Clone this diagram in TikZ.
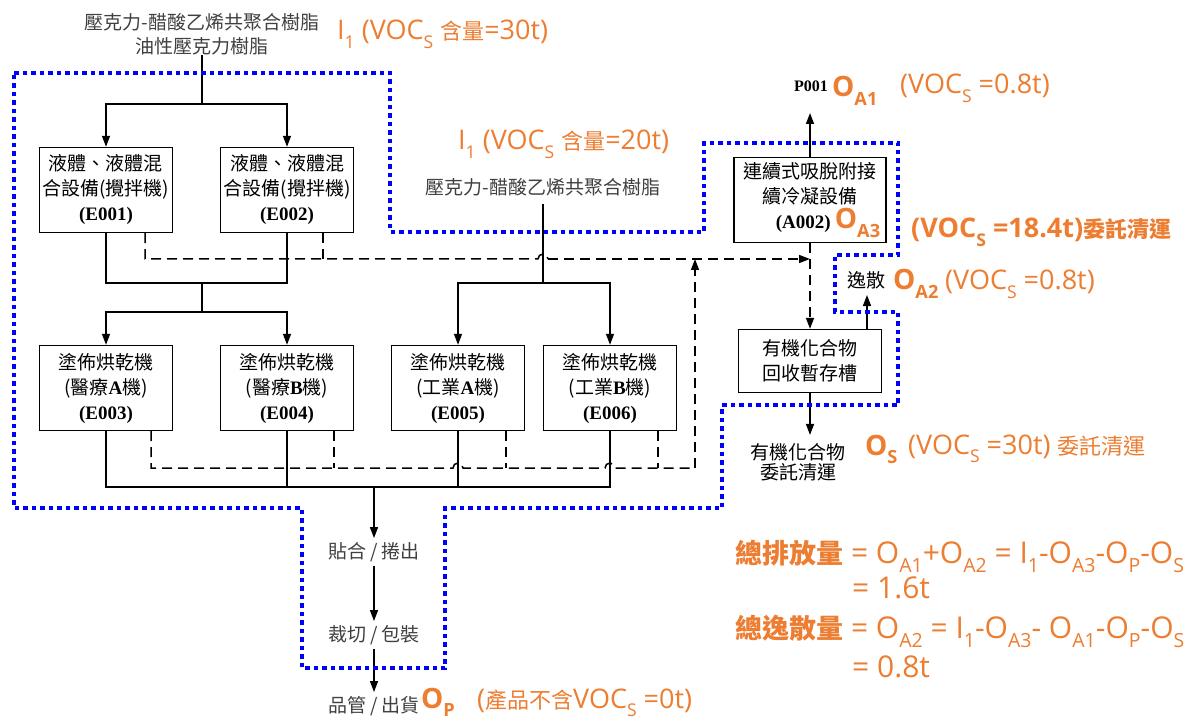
\documentclass[tikz,border=0pt]{standalone}
\usepackage{fontspec}
\usepackage{graphicx}
\usetikzlibrary{arrows.meta}
\setmainfont{Liberation Serif}
\newfontfamily\cjk{Noto Sans CJK TC}
\newfontfamily\osans{Open Sans}
\definecolor{orng}{RGB}{237,125,49}
\definecolor{gtx}{RGB}{64,64,64}
\definecolor{dblue}{RGB}{0,0,255}
\newcommand\sbx[1]{\raisebox{-0.3em}{\scalebox{0.65}{#1}}}
\newcommand\cj[1]{{\cjk\fontsize{22}{22}\selectfont #1}}
\newcommand\bO[1]{{\color{orng}\osans\bfseries\fontsize{28}{28}\selectfont O\sbx{#1}}}
\newcommand\ecode[1]{{\rmfamily\bfseries #1}}
\begin{document}
\begin{tikzpicture}[x=1pt,y=-1pt,
 ln/.style={line width=1.4pt},
 arr/.style={line width=1.4pt,-{Triangle[length=11pt,width=8pt]}},
 dsh/.style={line width=1.5pt,dash pattern=on 10pt off 6pt},
 darr/.style={dsh,-{Triangle[length=11pt,width=8pt]}},
 blu/.style={dblue,line width=4.5pt,dash pattern=on 4.5pt off 4pt},
 box/.style={draw,line width=1.4pt,minimum width=133pt,minimum height=85pt,align=center,inner sep=2pt,font=\cjk\fontsize{19}{25}\selectfont},
 btx/.style={font=\cjk\fontsize{19}{21}\selectfont,align=center,inner sep=0pt},
 gtxt/.style={gtx,font=\cjk\fontsize{19}{24}\selectfont,align=center,inner sep=0pt},
 ptxt/.style={gtx,font=\cjk\fontsize{19}{24}\selectfont,inner sep=4pt},
 otxt/.style={orng,font=\osans\fontsize{27}{27}\selectfont,inner sep=0pt,anchor=base west},
 ftxt/.style={orng,font=\osans\fontsize{30}{30}\selectfont,inner sep=0pt,anchor=base west},
]
\fill[white] (0,0) rectangle (1200,722);
\useasboundingbox (0,0) rectangle (1200,722);

% ---------- inputs ----------
\node[gtxt] (in1) at (202,34) {壓克力-醋酸乙烯共聚合樹脂\\油性壓克力樹脂};
\node[otxt] (i1a) at (337,40) {I\sbx{1} (VOC\sbx{S} \cj{含量}=30t)};
\node[otxt] (i1b) at (458,150) {I\sbx{1} (VOC\sbx{S} \cj{含量}=20t)};
\node[gtxt] (in2) at (543,187) {壓克力-醋酸乙烯共聚合樹脂};

% ---------- equipment ----------
\node[box] (e1) at (106,190) {液體、液體混\\合設備(攪拌機)\\\ecode{(E001)}};
\node[box] (e2) at (287,190) {液體、液體混\\合設備(攪拌機)\\\ecode{(E002)}};
\node[box] (e3) at (106,388) {塗佈烘乾機\\(醫療\ecode{A}機)\\\ecode{(E003)}};
\node[box] (e4) at (287,388) {塗佈烘乾機\\(醫療\ecode{B}機)\\\ecode{(E004)}};
\node[box] (e5) at (458,388) {塗佈烘乾機\\(工業\ecode{A}機)\\\ecode{(E005)}};
\node[box] (e6) at (610,388) {塗佈烘乾機\\(工業\ecode{B}機)\\\ecode{(E006)}};
\node[box,minimum width=152pt] (a2) at (810,200) {連續式吸脫附接\\續冷凝設備\\\hspace*{36pt}\ecode{(A002)} \bO{A3}};
\node[box,minimum width=143pt,minimum height=63pt] (tank) at (810,361) {有機化合物\\回收暫存槽};

% ---------- process steps ----------
\node[ptxt] (p1) at (374,552) {貼合 / 捲出};
\node[ptxt] (p2) at (374,635) {裁切 / 包裝};
\node[ptxt] (p3) at (374,706) {品管 / 出貨};

% ---------- outputs ----------
\node[font=\rmfamily\bfseries\fontsize{16}{16}\selectfont,anchor=base east,inner sep=0pt] (p001) at (828,92) {P001};
\node[anchor=base west,inner sep=0pt] (oa1) at (832,97) {\bO{A1}};
\node[otxt] (v1) at (900,94) {(VOC\sbx{S} =0.8t)};
\node[otxt,font=\osans\bfseries\fontsize{27}{27}\selectfont] (v3) at (911,238) {(VOC\sbx{S} =18.4t)\cj{\bfseries 委託清運}};
\node[btx] (ys) at (866,280) {逸散};
\node[anchor=base west,inner sep=0pt] (oa2) at (893,290) {\bO{A2}};
\node[otxt] (v2) at (945,290) {(VOC\sbx{S} =0.8t)};
\node[btx,font=\cjk\fontsize{19}{20}\selectfont] (os1) at (798,462) {有機化合物\\委託清運};
\node[anchor=base west,inner sep=0pt] (osl) at (865,455) {\bO{S}};
\node[otxt] (v4) at (908,454) {(VOC\sbx{S} =30t) \cj{委託清運}};
\node[anchor=base west,inner sep=0pt] (opl) at (421,708) {\bO{P}};
\node[otxt] (v5) at (477,708) {(\cj{產品不含}VOC\sbx{S} =0t)};

% ---------- formulas ----------
\node[ftxt] (f1) at (735,563) {{\cjk\bfseries\fontsize{27}{27}\selectfont 總排放量} = O\sbx{A1}+O\sbx{A2} = I\sbx{1}-O\sbx{A3}-O\sbx{P}-O\sbx{S}};
\node[ftxt] (f2) at (852,598) {= 1.6t};
\node[ftxt] (f3) at (735,638) {{\cjk\bfseries\fontsize{27}{27}\selectfont 總逸散量} = O\sbx{A2} = I\sbx{1}-O\sbx{A3}- O\sbx{A1}-O\sbx{P}-O\sbx{S}};
\node[ftxt] (f4) at (852,677) {= 0.8t};

% ---------- coordinates ----------
\coordinate (j1) at (202,104);
\coordinate (j2) at (202,283);
\coordinate (j3) at (202,312);
\coordinate (j4) at (543,283);
\coordinate (b1) at (374,487);
\coordinate (d1) at (145,259);
\coordinate (d2) at (323,259);
\coordinate (d3) at (695,468);
\coordinate (d4) at (151,468);
\coordinate (d5) at (334,468);
\coordinate (d6) at (506,468);
\coordinate (d7) at (658,468);
\coordinate (up1) at (810,113);
\coordinate (ev) at (867,295);

% ---------- solid flow ----------
\draw[ln] (in1.south) -- (j1);
\draw[arr] (j1) -| (e1);
\draw[arr] (j1) -| (e2);
\draw[ln] (e1.south) |- (j2) -| (e2.south);
\draw[ln] (j2) -- (j3);
\draw[arr] (j3) -| (e3);
\draw[arr] (j3) -| (e4);
\draw[ln,shorten <=8pt] (in2.south) -- (j4);
\draw[arr] (j4) -| (e5);
\draw[arr] (j4) -| (e6);
\draw[ln] (e3.south) |- (e6.south |- b1) -- (e6.south);
\draw[ln] (e4.south) -- (e4.south |- b1);
\draw[ln] (e5.south) -- (e5.south |- b1);
\draw[arr] (b1) -- (p1);
\draw[arr] (p1) -- (p2);
\draw[arr] (p2) -- (p3);
\draw[arr] (a2) -- (up1);
\draw[arr] (tank.north -| ev) -- (ev);
\draw[arr,shorten >=8pt] (tank) -- (tank.south |- os1.north);

% ---------- dashed (gas) flow ----------
\draw[dsh] (e1.south -| d1) -- (d1) -- (538,259) arc(180:0:5pt) -- (548,259);
\draw[darr] (548,259) -- (a2.south |- d1);
\draw[dsh] (e2.south -| d2) -- (d2);
\draw[dsh] (e3.south -| d4) -- (d4) -- (453,468) arc(180:0:5pt) -- (605,468) arc(180:0:5pt) -- (d3);
\draw[dsh] (e4.south -| d5) -- (d5);
\draw[dsh] (e5.south -| d6) -- (d6);
\draw[dsh] (e6.south -| d7) -- (d7);
\draw[darr] (d3) -- (d3 |- d1);
\draw[darr] (a2) -- (tank);

% ---------- boundary ----------
\draw[blu] (14,73) -- (390,73) -- (390,232) -- (704,232) -- (704,143) -- (898,143) -- (898,255) -- (835,255) -- (835,312) -- (898,312) -- (898,405) -- (722,405) -- (722,508) -- (445,508) -- (445,668) -- (302,668) -- (302,508) -- (14,508) -- cycle;
\end{tikzpicture}
\end{document}
